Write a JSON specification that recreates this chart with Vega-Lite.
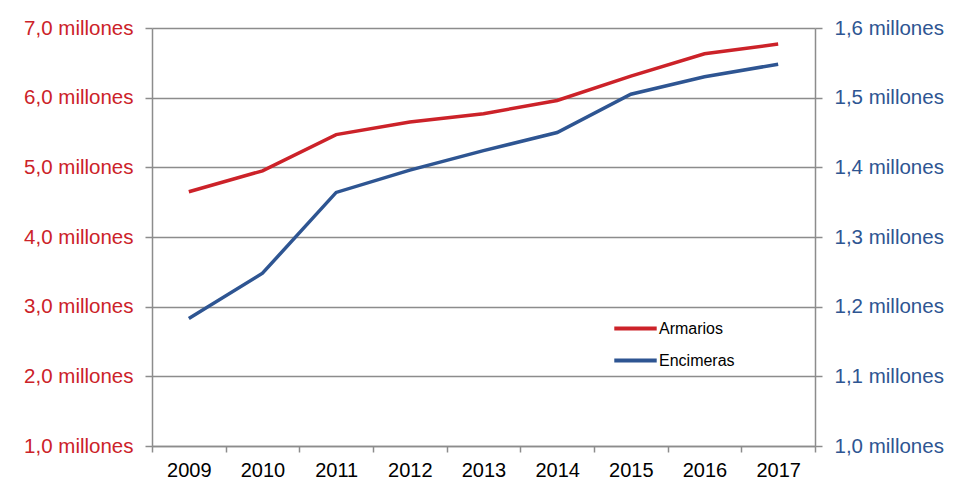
{
  "$schema": "https://vega.github.io/schema/vega-lite/v6.json",
  "width": 663,
  "height": 418,
  "autosize": {"type": "none"},
  "padding": {"left": 152, "top": 28, "right": 144, "bottom": 38},
  "background": "white",
  "config": {
    "font": "Liberation Sans",
    "view": {"stroke": null}
  },
  "data": {
    "values": [
      {"year": "2009", "armarios": 4.65, "encimeras": 1.183},
      {"year": "2010", "armarios": 4.95, "encimeras": 1.248},
      {"year": "2011", "armarios": 5.47, "encimeras": 1.364},
      {"year": "2012", "armarios": 5.65, "encimeras": 1.396},
      {"year": "2013", "armarios": 5.77, "encimeras": 1.424},
      {"year": "2014", "armarios": 5.96, "encimeras": 1.45},
      {"year": "2015", "armarios": 6.31, "encimeras": 1.505},
      {"year": "2016", "armarios": 6.63, "encimeras": 1.53},
      {"year": "2017", "armarios": 6.77, "encimeras": 1.548}
    ]
  },
  "encoding": {
    "x": {
      "field": "year",
      "type": "ordinal",
      "bandPosition": 0.5,
      "scale": {"type": "band", "paddingInner": 0, "paddingOuter": 0},
      "axis": {
        "title": null,
        "labelAngle": 0,
        "labelFontSize": 20,
        "labelColor": "#000000",
        "labelPadding": 8,
        "domainColor": "#8c8c8c",
        "domainWidth": 1.5,
        "tickColor": "#8c8c8c",
        "tickWidth": 1.5,
        "tickSize": 6,
        "tickBand": "extent",
        "grid": false
      }
    }
  },
  "layer": [
    {
      "mark": {"type": "line", "strokeWidth": 3.5},
      "encoding": {
        "y": {
          "field": "armarios",
          "type": "quantitative",
          "scale": {"domain": [1, 7], "nice": false},
          "axis": {
            "title": null,
            "orient": "left",
            "values": [1, 2, 3, 4, 5, 6, 7],
            "labelExpr": "replace(format(datum.value, '.1f'), '.', ',') + ' millones'",
            "labelFontSize": 20.5,
            "labelColor": "#cc2229",
            "labelPadding": 12,
            "domainColor": "#8c8c8c",
            "domainWidth": 1.5,
            "tickColor": "#8c8c8c",
            "tickWidth": 1.5,
            "tickSize": 7,
            "grid": true,
            "gridColor": "#8c8c8c",
            "gridWidth": 1.5
          }
        },
        "color": {
          "datum": "Armarios",
          "type": "nominal",
          "scale": {"domain": ["Armarios", "Encimeras"], "range": ["#cc2229", "#2e5592"]},
          "legend": {
            "title": null,
            "orient": "none",
            "legendX": 460,
            "legendY": 277,
            "symbolType": "stroke",
            "symbolSize": 1800,
            "symbolStrokeWidth": 4,
            "labelFontSize": 16,
            "labelColor": "#000000",
            "labelOffset": 0,
            "rowPadding": -6
          }
        }
      }
    },
    {
      "mark": {"type": "line", "strokeWidth": 3.5},
      "encoding": {
        "y": {
          "field": "encimeras",
          "type": "quantitative",
          "scale": {"domain": [1.0, 1.6], "nice": false},
          "axis": {
            "title": null,
            "orient": "right",
            "values": [1.0, 1.1, 1.2, 1.3, 1.4, 1.5, 1.6],
            "labelExpr": "replace(format(datum.value, '.1f'), '.', ',') + ' millones'",
            "labelFontSize": 20.5,
            "labelColor": "#2e5592",
            "labelPadding": 12,
            "domainColor": "#8c8c8c",
            "domainWidth": 1.5,
            "tickColor": "#8c8c8c",
            "tickWidth": 1.5,
            "tickSize": 7,
            "grid": false
          }
        },
        "color": {"datum": "Encimeras", "type": "nominal"}
      }
    }
  ],
  "resolve": {"scale": {"y": "independent"}}
}
